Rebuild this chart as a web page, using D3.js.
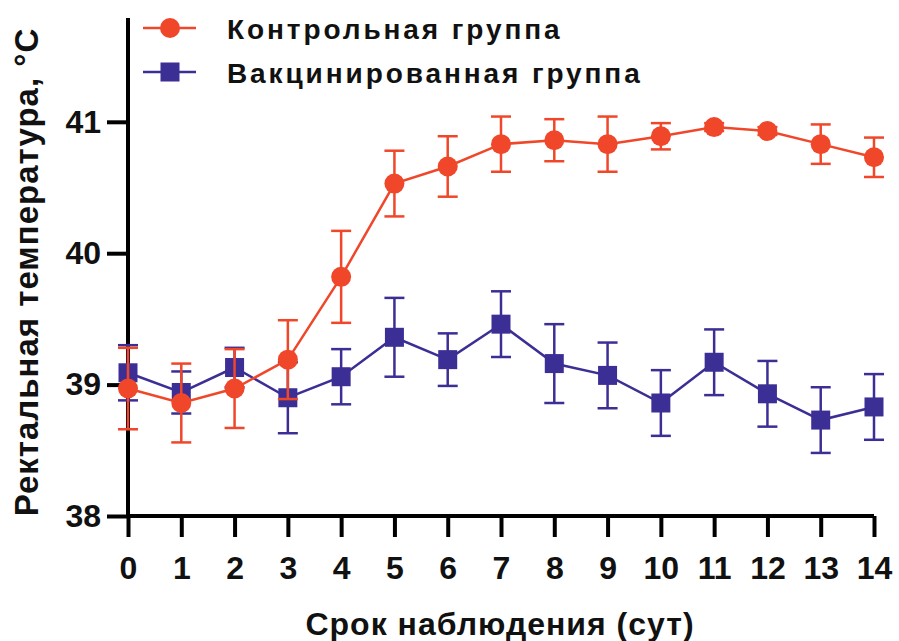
<!DOCTYPE html>
<html>
<head>
<meta charset="utf-8">
<script src="https://cdn.jsdelivr.net/npm/d3@7"></script>
<style>
  html, body { margin: 0; padding: 0; background: #fff; }
  svg { display: block; font-family: "Liberation Sans", Arial, sans-serif; font-weight: bold; }
</style>
</head>
<body>
<svg id="chart" width="899" height="641"></svg>
<script>
// ========= Data =========
const days = [0, 1, 2, 3, 4, 5, 6, 7, 8, 9, 10, 11, 12, 13, 14];

const controlMean = [38.97, 38.86, 38.97, 39.19, 39.82, 40.53, 40.66, 40.83, 40.86, 40.83, 40.89, 40.96, 40.93, 40.83, 40.73];
const controlErr  = [0.31, 0.30, 0.30, 0.30, 0.35, 0.25, 0.23, 0.21, 0.16, 0.21, 0.10, 0.03, 0.03, 0.15, 0.15];

const vaccMean = [39.09, 38.94, 39.13, 38.90, 39.06, 39.36, 39.19, 39.46, 39.16, 39.07, 38.86, 39.17, 38.93, 38.73, 38.83];
const vaccErr  = [0.21, 0.16, 0.15, 0.27, 0.21, 0.30, 0.20, 0.25, 0.30, 0.25, 0.25, 0.25, 0.25, 0.25, 0.25];

const yTicks = [38, 39, 40, 41];
const seriesNames = ["Контрольная группа", "Вакцинированная группа"];
const xTitle = "Срок наблюдения (сут)";
const yTitle = "Ректальная температура, °С";

// ========= Setup =========
const RED = "#f0472a";
const BLUE = "#3b2f95";

const svg = d3.select("#chart");
const plotTop = 18;

const x = d3.scaleLinear().domain([0, 14]).range([128, 874]);
const y = d3.scaleLinear().domain([38, 41.79]).range([516, plotTop]);

// ========= Axes =========
const xAxis = svg.append("g")
  .attr("transform", `translate(0,${y(38)})`)
  .call(d3.axisBottom(x).tickValues(days).tickFormat(d3.format("d")).tickSize(21).tickPadding(19));
xAxis.select(".domain").attr("stroke-width", 4).attr("d", `M${x(0)},0H${x(14)}`);
xAxis.selectAll(".tick line").attr("stroke-width", 4);
xAxis.selectAll(".tick text")
  .attr("font-size", 32).attr("font-family", "Liberation Sans, Arial, sans-serif")
  .attr("font-weight", "bold").attr("fill", "#111");

const yAxis = svg.append("g")
  .attr("transform", `translate(${x(0)},0)`)
  .call(d3.axisLeft(y).tickValues(yTicks).tickFormat(d3.format("d")).tickSize(21).tickPadding(6));
yAxis.select(".domain").attr("stroke-width", 4).attr("d", `M0,${y(38) + 2}V${plotTop}`);
yAxis.selectAll(".tick line").attr("stroke-width", 4);
yAxis.selectAll(".tick text")
  .attr("font-size", 32).attr("font-family", "Liberation Sans, Arial, sans-serif")
  .attr("font-weight", "bold").attr("fill", "#111");

// ========= Titles =========
svg.append("text")
  .attr("x", 500).attr("y", 635)
  .attr("text-anchor", "middle")
  .attr("font-size", 32)
  .attr("letter-spacing", 1)
  .attr("fill", "#111")
  .text(xTitle);

svg.append("text")
  .attr("transform", `translate(38,272) rotate(-90)`)
  .attr("text-anchor", "middle")
  .attr("font-size", 33)
  .attr("letter-spacing", 1)
  .attr("fill", "#111")
  .text(yTitle);

// ========= Series =========
function drawSeries(mean, err, color, shape) {
  const g = svg.append("g");
  const data = days.map((d, i) => ({ day: d, m: mean[i], e: err[i] }));

  // error bars
  const eb = g.selectAll(".eb").data(data).join("g");
  eb.append("line")
    .attr("x1", d => x(d.day)).attr("x2", d => x(d.day))
    .attr("y1", d => y(d.m - d.e)).attr("y2", d => y(d.m + d.e))
    .attr("stroke", color).attr("stroke-width", 2.5);
  [-1, 1].forEach(s => {
    eb.append("line")
      .attr("x1", d => x(d.day) - 10).attr("x2", d => x(d.day) + 10)
      .attr("y1", d => y(d.m + s * d.e)).attr("y2", d => y(d.m + s * d.e))
      .attr("stroke", color).attr("stroke-width", 2.5);
  });

  // line
  g.append("path")
    .datum(data)
    .attr("fill", "none")
    .attr("stroke", color)
    .attr("stroke-width", 2.5)
    .attr("d", d3.line().x(d => x(d.day)).y(d => y(d.m)));

  // markers
  if (shape === "circle") {
    g.selectAll("circle").data(data).join("circle")
      .attr("cx", d => x(d.day)).attr("cy", d => y(d.m)).attr("r", 10)
      .attr("fill", color);
  } else {
    g.selectAll("rect").data(data).join("rect")
      .attr("x", d => x(d.day) - 9.5).attr("y", d => y(d.m) - 9.5)
      .attr("width", 19).attr("height", 19)
      .attr("fill", color);
  }
}

drawSeries(vaccMean, vaccErr, BLUE, "square");
drawSeries(controlMean, controlErr, RED, "circle");

// ========= Legend =========
const legend = svg.append("g");
const legendRows = [
  { name: seriesNames[0], color: RED, shape: "circle", cy: 28 },
  { name: seriesNames[1], color: BLUE, shape: "square", cy: 72 }
];
legendRows.forEach(r => {
  legend.append("line")
    .attr("x1", 143).attr("x2", 196).attr("y1", r.cy).attr("y2", r.cy)
    .attr("stroke", r.color).attr("stroke-width", 2.5);
  if (r.shape === "circle") {
    legend.append("circle").attr("cx", 170).attr("cy", r.cy).attr("r", 10).attr("fill", r.color);
  } else {
    legend.append("rect").attr("x", 160.5).attr("y", r.cy - 9.5)
      .attr("width", 19).attr("height", 19).attr("fill", r.color);
  }
  legend.append("text")
    .attr("x", 227).attr("y", r.cy + 11)
    .attr("font-size", 28)
    .attr("letter-spacing", 2.9)
    .attr("fill", "#111")
    .text(r.name);
});
</script>
</body>
</html>
